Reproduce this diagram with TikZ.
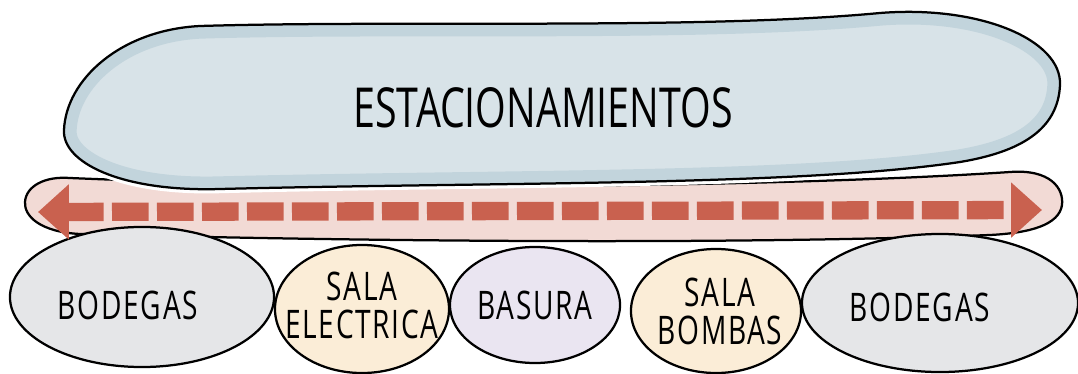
\documentclass[tikz,border=0pt]{standalone}
\usepackage{fontspec}
\setmainfont{Open Sans}
\usetikzlibrary{shapes.geometric,arrows.meta}
\definecolor{bluefill}{HTML}{D8E3E8}
\definecolor{blueedge}{HTML}{C2D4DC}
\definecolor{pinkfill}{HTML}{F2DAD5}
\definecolor{arrowred}{HTML}{C9614F}
\definecolor{grayfill}{HTML}{E5E6E8}
\definecolor{peachfill}{HTML}{FBEDD7}
\definecolor{lavfill}{HTML}{EAE5F1}
\newcommand\hw[1]{\scalebox{1}[1.4]{#1}}
\tikzset{
  outline/.style={draw=black, line width=1.6pt, line join=round},
  room/.style={ellipse, outline, inner sep=0pt},
  roomtext/.style={align=center, inner sep=0pt,
    font=\fontsize{20}{24}\selectfont\addfontfeature{LetterSpace=6}},
  flow/.style={draw=arrowred, line width=13pt, dash pattern=on 26pt off 6pt,
    {Triangle[length=22pt,width=38pt]}-{Triangle[length=22pt,width=38pt]}},
}
\begin{document}
\begin{tikzpicture}[x=0.025cm,y=-0.025cm]
\useasboundingbox (0,0) rectangle (1078,374);
% circulation band
\path[fill=pinkfill, outline]
  (70,178) .. controls (400,192) and (800,186) .. (1010,172)
  .. controls (1050,169) and (1064,188) .. (1062,205)
  .. controls (1059,225) and (1030,233) .. (990,235)
  .. controls (700,246) and (300,240) .. (80,234)
  .. controls (40,232) and (24,216) .. (25,202)
  .. controls (26,186) and (45,176) .. (70,178) -- cycle;
% parking
\path[fill=bluefill, draw=white, line width=6pt]
  (200,26) .. controls (400,20) and (700,30) .. (880,13)
  .. controls (980,5) and (1062,40) .. (1060,85)
  .. controls (1058,130) and (1020,152) .. (960,162)
  .. controls (800,186) and (500,182) .. (220,189)
  .. controls (120,192) and (62,162) .. (64,130)
  .. controls (66,80) and (120,30) .. (200,26) -- cycle;
\begin{scope}
\clip
  (200,26) .. controls (400,20) and (700,30) .. (880,13)
  .. controls (980,5) and (1062,40) .. (1060,85)
  .. controls (1058,130) and (1020,152) .. (960,162)
  .. controls (800,186) and (500,182) .. (220,189)
  .. controls (120,192) and (62,162) .. (64,130)
  .. controls (66,80) and (120,30) .. (200,26) -- cycle;
\draw[blueedge, line width=18pt]
  (200,26) .. controls (400,20) and (700,30) .. (880,13)
  .. controls (980,5) and (1062,40) .. (1060,85)
  .. controls (1058,130) and (1020,152) .. (960,162)
  .. controls (800,186) and (500,182) .. (220,189)
  .. controls (120,192) and (62,162) .. (64,130)
  .. controls (66,80) and (120,30) .. (200,26) -- cycle;
\end{scope}
\draw[outline]
  (200,26) .. controls (400,20) and (700,30) .. (880,13)
  .. controls (980,5) and (1062,40) .. (1060,85)
  .. controls (1058,130) and (1020,152) .. (960,162)
  .. controls (800,186) and (500,182) .. (220,189)
  .. controls (120,192) and (62,162) .. (64,130)
  .. controls (66,80) and (120,30) .. (200,26) -- cycle;
\node[font=\fontsize{28}{32}\selectfont] (est) at (543,108) {\hw{ESTACIONAMIENTOS}};
% rooms
\node[room, fill=grayfill, minimum width=6.6cm, minimum height=3.5cm,
  label={[roomtext, xshift=-0.35cm, yshift=-0.2cm]center:\hw{BODEGAS}}] (bod1) at (142,297) {};
\node[room, fill=peachfill, minimum width=4.35cm, minimum height=3.2cm,
  label={[roomtext, yshift=0.1cm]center:{\hw{SALA}\\[3pt]\hw{ELECTRICA}}}] (elec) at (362,309) {};
\node[room, fill=lavfill, minimum width=4.25cm, minimum height=2.9cm,
  label={[roomtext]center:\hw{BASURA}}] (bas) at (535,305) {};
\node[room, fill=peachfill, minimum width=4.25cm, minimum height=3.1cm,
  label={[roomtext, xshift=0.1cm]center:{\hw{SALA}\\[3pt]\hw{BOMBAS}}}] (bomb) at (716,311) {};
\node[room, fill=grayfill, minimum width=6.9cm, minimum height=3.45cm,
  label={[roomtext, xshift=-0.5cm, yshift=-0.1cm]center:\hw{BODEGAS}}] (bod2) at (940,303) {};
% circulation arrow
\coordinate (la) at (38,212);
\coordinate (ra) at (1042,210);
\draw[flow] (la) -- (ra);
\end{tikzpicture}
\end{document}
